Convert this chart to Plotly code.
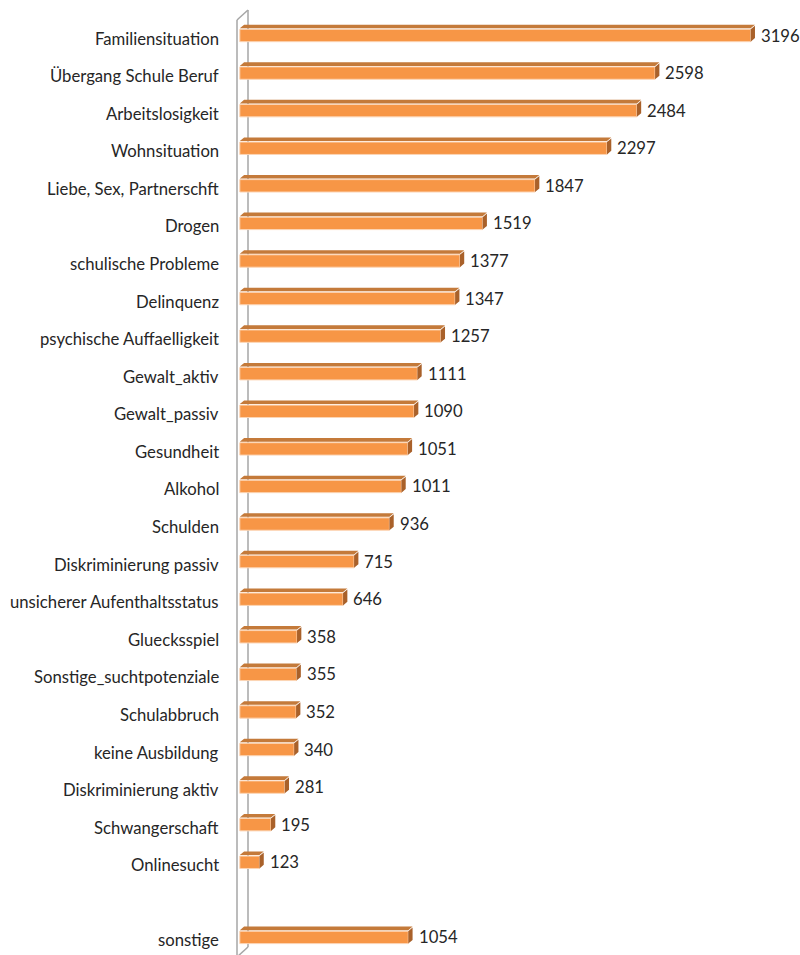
import plotly.graph_objects as go

# Topics, sorted by frequency; the catch-all group is shown separately at the bottom
categories = [
    "Familiensituation", "Übergang Schule Beruf", "Arbeitslosigkeit", "Wohnsituation",
    "Liebe, Sex, Partnerschft", "Drogen", "schulische Probleme", "Delinquenz",
    "psychische Auffaelligkeit", "Gewalt_aktiv", "Gewalt_passiv", "Gesundheit",
    "Alkohol", "Schulden", "Diskriminierung passiv", "unsicherer Aufenthaltsstatus",
    "Gluecksspiel", "Sonstige_suchtpotenziale", "Schulabbruch", "keine Ausbildung",
    "Diskriminierung aktiv", "Schwangerschaft", "Onlinesucht",
]
values = [
    3196, 2598, 2484, 2297, 1847, 1519, 1377, 1347, 1257, 1111, 1090, 1051,
    1011, 936, 715, 646, 358, 355, 352, 340, 281, 195, 123,
]
other_category = "sonstige"
other_value = 1054

W, H = 800, 955
FONT = "Lato, Carlito, sans-serif"
TEXT = "#262626"
FRONT = "#F79646"
TOP = "#C47A3A"
SIDE = "#A9612A"
WALL = "#A6A6A6"

# Pixel geometry of the plotting area (margins are zero)
X0_PX = 239.8          # pixel of value 0
PX_PER_UNIT = 0.15985  # horizontal pixels per count
ROW_PX = 37.58         # vertical pixels per row
ROW0_PX = 35.5         # pixel centre of the first row

x_min = -X0_PX / PX_PER_UNIT
x_max = (W - X0_PX) / PX_PER_UNIT
y_top = -ROW0_PX / ROW_PX
y_bottom = y_top + H / ROW_PX

# one empty row separates the catch-all group from the rest
labels = categories + [other_category]
counts = values + [other_value]
rows = list(range(len(categories))) + [len(categories) + 1]

HALF = 6.2 / ROW_PX            # half height of the front face
DX = 4.3 / PX_PER_UNIT         # depth offset to the right
DY = 3.6 / ROW_PX              # depth offset upward
GAP = 1.0 / ROW_PX             # light seam between top and front faces

top_x, top_y, side_x, side_y = [], [], [], []
for r, v in zip(rows, counts):
    yf = r - HALF - GAP
    top_x += [0, DX, v + DX, v, 0, None]
    top_y += [yf, yf - DY, yf - DY, yf, yf, None]
    side_x += [v, v + DX, v + DX, v, v, None]
    side_y += [r - HALF, r - HALF - DY, r + HALF - DY, r + HALF, r - HALF, None]

fig = go.Figure()
fig.add_trace(go.Scatter(x=top_x, y=top_y, mode="lines", fill="toself",
                         fillcolor=TOP, line=dict(width=0), hoverinfo="skip"))
fig.add_trace(go.Scatter(x=side_x, y=side_y, mode="lines", fill="toself",
                         fillcolor=SIDE, line=dict(width=0), hoverinfo="skip"))
fig.add_trace(go.Bar(x=counts, y=rows, base=0, orientation="h", width=2 * HALF,
                     marker=dict(color=FRONT, line=dict(color="#FCD5B5", width=1))))

annotations = []
for r, v, name in zip(rows, counts, labels):
    annotations.append(dict(x=0, y=r, xref="x", yref="y", text=name, showarrow=False,
                            xanchor="right", yanchor="middle", xshift=-19, yshift=-3,
                            font=dict(family=FONT, size=16.7, color=TEXT)))
    annotations.append(dict(x=v + DX, y=r, xref="x", yref="y", text=str(v), showarrow=False,
                            xanchor="left", yanchor="middle", xshift=4, yshift=0,
                            font=dict(family=FONT, size=16.7, color=TEXT)))

# category wall: front edge, back edge and the connecting diagonals
def px(x, y):
    return x / W, 1 - y / H

shapes = []
for (xa, ya), (xb, yb) in [((248, 10), (248, 947)), ((237, 20), (248, 10)),
                           ((237, 20), (237, 960)), ((248, 947), (237, 957))]:
    x1, y1 = px(xa, ya)
    x2, y2 = px(xb, yb)
    shapes.append(dict(type="line", xref="paper", yref="paper", x0=x1, y0=y1, x1=x2, y1=y2,
                       line=dict(color=WALL, width=1.5), layer="below"))

fig.update_layout(
    width=W, height=H,
    margin=dict(l=0, r=0, t=0, b=0),
    paper_bgcolor="white", plot_bgcolor="white",
    showlegend=False,
    xaxis=dict(range=[x_min, x_max], visible=False, fixedrange=True),
    yaxis=dict(range=[y_bottom, y_top], visible=False, fixedrange=True),
    annotations=annotations,
    shapes=shapes,
)

fig.write_html("out.html")
